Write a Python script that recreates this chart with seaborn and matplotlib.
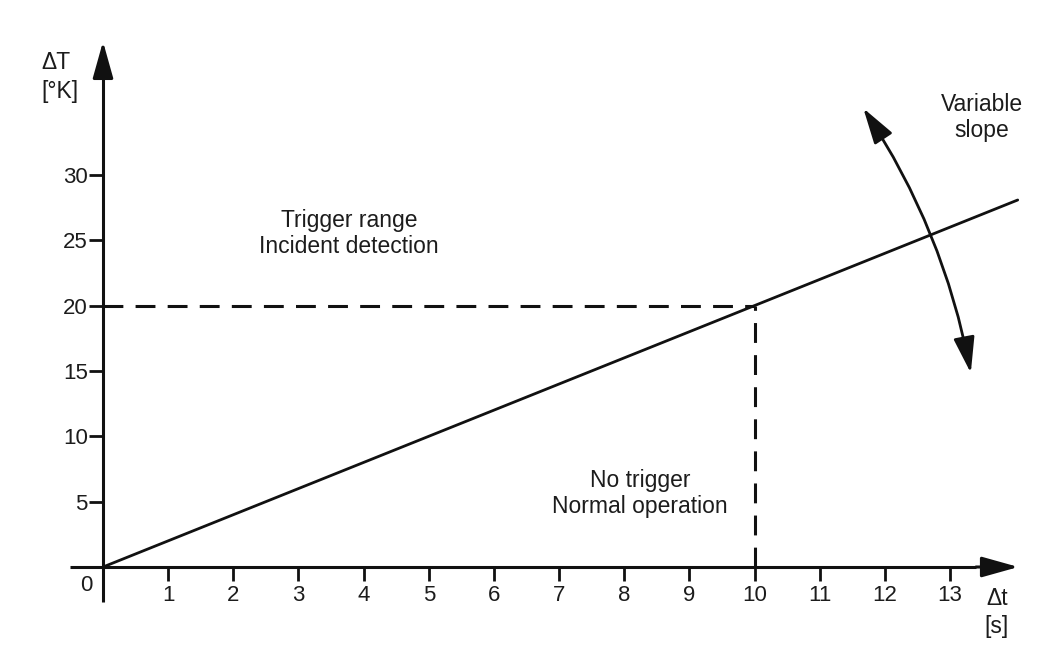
import numpy as np
import pandas as pd
import matplotlib
matplotlib.use('Agg')
import matplotlib.pyplot as plt
from matplotlib.patches import FancyArrowPatch, ArrowStyle
import seaborn as sns

# data
t_line = [0.0, 14.04]          # Δt [s]
dT_line = [0.0, 28.08]         # ΔT [°K]
t_threshold = 10
dT_threshold = 20
x_ticks = list(range(1, 14))
y_ticks = [5, 10, 15, 20, 25, 30]
slope_arrow = [(11.67, 35.1), (13.32, 14.85)]

sns.set_theme(style='white')
plt.rcParams['font.family'] = ['Liberation Sans', 'DejaVu Sans']

ink = '#111111'
txt = '#1c1c1c'

fig = plt.figure(figsize=(10.51, 6.5), dpi=100)
ax = fig.add_axes([0, 0, 1, 1])
ax.set_xlim(-103 / 65.15, (1051 - 103) / 65.15)
ax.set_ylim(-(650 - 567) / 13.07, 567 / 13.07)

# axes through the origin
for side in ['top', 'right']:
    ax.spines[side].set_visible(False)
ax.spines['left'].set_position(('data', 0))
ax.spines['bottom'].set_position(('data', 0))
ax.spines['left'].set_bounds(-2.7, 38.0)
ax.spines['bottom'].set_bounds(-0.5, 13.4)
for side in ['left', 'bottom']:
    ax.spines[side].set_color(ink)
    ax.spines[side].set_linewidth(2.2)
    ax.spines[side].set_capstyle('butt')

head = ArrowStyle('-|>', head_length=1.5, head_width=0.42)
ax.add_patch(FancyArrowPatch((13.4, 0), (14.05, 0), arrowstyle=head, mutation_scale=15,
                             color=ink, lw=2.2, shrinkA=0, shrinkB=0))
ax.add_patch(FancyArrowPatch((0, 38.0), (0, 40.2), arrowstyle=head, mutation_scale=15,
                             color=ink, lw=2.2, shrinkA=0, shrinkB=0))

ax.set_xticks(x_ticks)
ax.set_yticks(y_ticks)
ax.tick_params(axis='x', direction='out', length=10, width=2, color=ink, pad=3,
               labelsize=16, labelcolor=txt, bottom=True)
ax.tick_params(axis='y', direction='out', length=10, width=2, color=ink, pad=1,
               labelsize=16, labelcolor=txt, left=True)
ax.grid(False)

# threshold lines
sns.lineplot(x=[0, t_threshold], y=[dT_threshold, dT_threshold], ax=ax, color=ink,
             lw=2.2, linestyle=(0, (6.5, 4)))
sns.lineplot(x=[t_threshold, t_threshold], y=[0, dT_threshold], ax=ax, color=ink,
             lw=2.2, linestyle=(0, (6.5, 4)), orient='y')

# temperature rise line
sns.lineplot(x=t_line, y=dT_line, ax=ax, color=ink, lw=2.0)

# variable slope arrow
ax.add_patch(FancyArrowPatch(slope_arrow[0], slope_arrow[1],
                             arrowstyle=ArrowStyle('<|-|>', head_length=1.7, head_width=0.5),
                             mutation_scale=13, connectionstyle='arc3,rad=-0.1',
                             color=ink, lw=2.0, shrinkA=0, shrinkB=0))

ax.text(-0.25, -1.4, '0', fontsize=16, color=txt, ha='center', va='center')
ax.text(-0.94, 37.5, 'ΔT\n[°K]', fontsize=16.5, color=txt, ha='left', va='center',
        linespacing=1.3)
ax.text(13.72, -3.5, 'Δt\n[s]', fontsize=16.5, color=txt, ha='center', va='center',
        linespacing=1.3)
ax.text(3.78, 25.5, 'Trigger range\nIncident detection', fontsize=16.5, color=txt,
        ha='center', va='center', linespacing=1.15)
ax.text(8.24, 5.6, 'No trigger\nNormal operation', fontsize=16.5, color=txt,
        ha='center', va='center', linespacing=1.15)
ax.text(13.49, 34.4, 'Variable\nslope', fontsize=16.5, color=txt,
        ha='center', va='center', linespacing=1.15)

ax.set_xlabel('')
ax.set_ylabel('')
fig.savefig('out.png', dpi=100, facecolor='white')
